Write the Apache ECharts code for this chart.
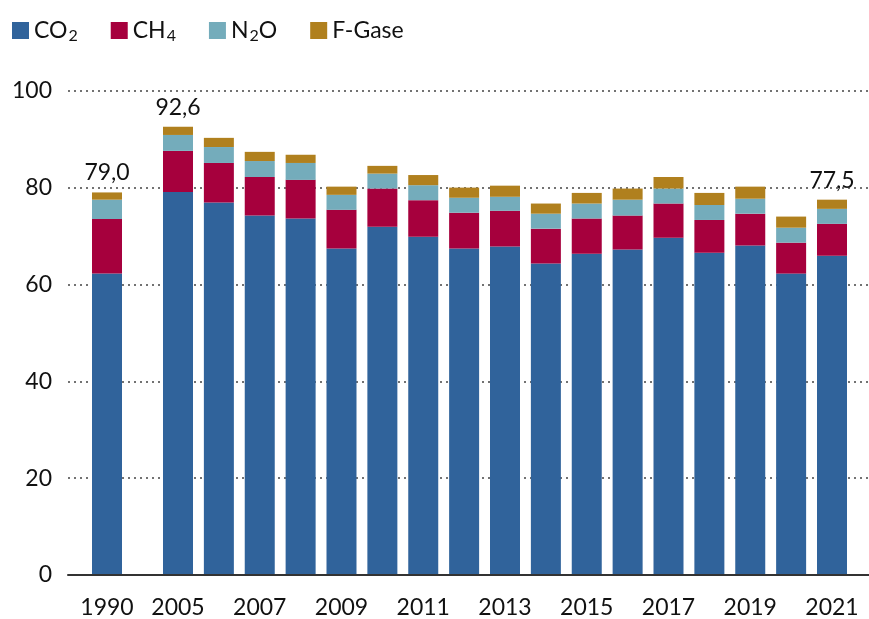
<!DOCTYPE html>
<html><head><meta charset="utf-8">
<script src="https://cdn.jsdelivr.net/npm/echarts@6/dist/echarts.min.js"></script>
<style>html,body{margin:0;padding:0;background:#fff}#c{width:869px;height:619px}</style>
</head><body><div id="c"></div>
<script>
const years = ['1990', '2005', '2006', '2007', '2008', '2009', '2010', '2011', '2012', '2013', '2014', '2015', '2016', '2017', '2018', '2019', '2020', '2021'];
const co2   = [62.2, 79.1, 76.9, 74.2, 73.6, 67.4, 71.9, 69.8, 67.4, 67.8, 64.3, 66.3, 67.2, 69.6, 66.5, 68.0, 62.2, 65.9];
const ch4   = [11.3, 8.5, 8.2, 8.0, 8.0, 8.0, 7.9, 7.6, 7.4, 7.4, 7.2, 7.3, 7.0, 7.1, 6.8, 6.6, 6.4, 6.6];
const n2o   = [4.0, 3.3, 3.3, 3.3, 3.5, 3.1, 3.1, 3.1, 3.1, 2.9, 3.1, 3.1, 3.3, 3.1, 3.1, 3.1, 3.1, 3.1];
const fgase = [1.5, 1.7, 1.9, 1.9, 1.7, 1.7, 1.6, 2.1, 2.1, 2.3, 2.1, 2.2, 2.3, 2.4, 2.5, 2.5, 2.3, 1.9];
const yTicks = [0, 20, 40, 60, 80, 100];
const labeledYears = ['1990', '2005', '2021'];
const seriesNames = ['CO₂', 'CH₄', 'N₂O', 'F-Gase'];
const colors = ['#30639B', '#A6003D', '#74ACBB', '#B0801E'];

const FONT = 'Lato';
const TXT = '#111';
const values = [co2, ch4, n2o, fgase];
const totals = years.map((y, i) => co2[i] + ch4[i] + n2o[i] + fgase[i]);
// split: reference year (1990) in its own band, 2005-2021 in the main band
const groups = [
  { cats: years.slice(0, 1), from: 0, to: 1 },
  { cats: years.slice(1), from: 1, to: years.length }
];

const chart = echarts.init(document.getElementById('c'));

const grids = [
  { left: 68, right: 0, top: 91, bottom: 44 },          // frame: gridlines + axis line
  { left: 68, right: 869 - 146, top: 91, bottom: 44 },  // 1990
  { left: 157.56, right: 16.56, top: 91, bottom: 44 }   // 2005-2021
];
const xAxes = [
  { gridIndex: 0, type: 'value', min: 0, max: 1, axisLabel: { show: false }, axisTick: { show: false }, splitLine: { show: false },
    axisLine: { show: true, lineStyle: { color: '#333', width: 2 } }, z: 5 },
  ...groups.map((g, k) => ({
    gridIndex: k + 1, type: 'category', data: g.cats,
    axisLine: { show: false }, axisTick: { show: false },
    axisLabel: { interval: k === 0 ? 0 : 1, margin: 22, fontFamily: FONT, fontSize: 23, color: TXT }
  }))
];
const yAxes = [
  { gridIndex: 0, type: 'value', min: yTicks[0], max: yTicks[yTicks.length - 1], interval: yTicks[1] - yTicks[0],
    axisLine: { show: false }, axisTick: { show: false },
    axisLabel: { margin: 16, fontFamily: FONT, fontSize: 23, color: TXT },
    splitLine: { lineStyle: { type: [2, 4], color: '#444', width: 1.5 } } },
  ...groups.map((g, k) => ({
    gridIndex: k + 1, type: 'value', min: yTicks[0], max: yTicks[yTicks.length - 1],
    axisLine: { show: false }, axisTick: { show: false }, axisLabel: { show: false }, splitLine: { show: false }
  }))
];

const series = [];
groups.forEach((g, k) => {
  values.forEach((arr, s) => {
    const ser = {
      name: seriesNames[s], type: 'bar', stack: 'total' + k, barWidth: 30,
      xAxisIndex: k + 1, yAxisIndex: k + 1,
      itemStyle: { color: colors[s] },
      emphasis: { disabled: true },
      data: arr.slice(g.from, g.to)
    };
    if (s === values.length - 1) {
      ser.label = {
        show: true, position: 'top', distance: 8,
        fontFamily: FONT, fontSize: 23, color: TXT,
        formatter: p => {
          const i = g.from + p.dataIndex;
          return labeledYears.includes(years[i]) ? totals[i].toFixed(1).replace('.', ',') : '';
        }
      };
    }
    series.push(ser);
  });
});

chart.setOption({
  animation: false,
  textStyle: { fontFamily: FONT },
  legend: {
    left: 12, top: 19, padding: 0, icon: 'rect', itemWidth: 17, itemHeight: 17, itemGap: 33,
    data: seriesNames,
    formatter: n => n.replace('₂', '{sub|2}').replace('₄', '{sub|4}'),
    textStyle: {
      fontFamily: FONT, fontSize: 23, color: TXT,
      rich: { sub: { fontFamily: FONT, fontSize: 16, color: TXT, verticalAlign: 'bottom', padding: [10, 0, 0, 1] } }
    }
  },
  grid: grids,
  xAxis: xAxes,
  yAxis: yAxes,
  series
});
</script></body></html>
